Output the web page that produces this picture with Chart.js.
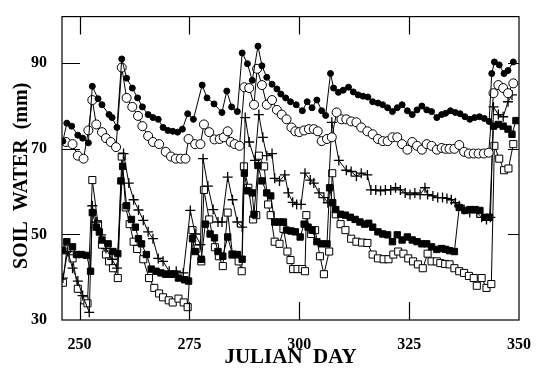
<!DOCTYPE html>
<html>
<head>
<meta charset="utf-8">
<script src="https://cdn.jsdelivr.net/npm/chart.js@4/dist/chart.umd.min.js"></script>
<style>
  html, body { margin: 0; padding: 0; background: #fff; }
  #wrap { width: 538px; height: 368px; }
</style>
</head>
<body>
<div id="wrap"><canvas id="soil" width="538" height="368"></canvas></div>
<script>
// tick labels
const xTicks = [250, 275, 300, 325, 350];
const yTicks = [30, 50, 70, 90];

// filled circles
const dotDays = [246.2, 247.1, 248.2, 249.6, 250.7, 252.0, 252.9, 254.2, 255.1, 256.7, 257.4, 258.5, 259.6, 260.7, 262.0, 263.2,
  264.3, 265.6, 266.7, 267.9, 269.0, 270.1, 271.2, 272.3, 273.4, 274.6, 275.9, 277.9, 279.0, 280.6, 282.4, 283.5, 284.6, 285.9,
  287.0, 288.2, 289.3, 290.6, 291.5, 292.6, 293.8, 294.9, 295.8, 296.9, 298.0, 299.3, 300.7, 301.8, 302.9, 304.0, 305.1, 306.0,
  307.1, 307.8, 308.9, 310.0, 311.2, 312.3, 313.4, 314.5, 315.6, 316.7, 317.9, 319.0, 320.1, 321.2, 322.3, 323.4, 324.6, 325.7,
  326.8, 327.9, 329.0, 330.1, 331.3, 332.4, 333.3, 334.4, 335.5, 336.6, 337.7, 338.8, 339.9, 341.0, 342.1, 343.2,
  343.8, 344.4, 345.5, 346.6, 347.5, 348.7];
const dotVals = [71.8, 76, 75.3, 73.2, 72.5, 71.4, 84.6, 81.7, 80.3, 78, 77.3, 75, 91, 86.5, 84.2, 81.9,
  79.8, 78, 77.3, 76.9, 75, 74.3, 74.1, 73.9, 74.6, 78.2, 76.9, 84.9, 81.9, 80.5, 78.5, 83.5, 79.8, 78.7,
  92.4, 89.9, 86, 94, 89.4, 86.7, 85.1, 84, 82.8, 81.9, 81, 80.3, 78.9, 81, 79.6, 81.4, 78.9, 77.8,
  87.6, 84.2, 83.2, 83.7, 84.4, 83.3, 82.6, 82.3, 82.1, 81, 80.7, 80.3, 79.6, 78.7, 79.6, 80.3, 78.9, 78,
  79.1, 80, 79.1, 78.7, 77.3, 78, 78.3, 78.9, 78.5, 78.2, 77.5, 76.9, 77.3, 77.5, 77.1, 76.4,
  87.6, 90.3, 89.6, 87.6, 88.3, 90.3];

// open circles
const ringDays = [246.9, 248.4, 249.6, 250.9, 252.0, 252.9, 253.8, 255.1, 256.0, 257.1, 258.3, 259.6, 260.7, 262.0, 263.3,
  264.3, 265.6, 266.7, 268.1, 269.6, 270.8, 271.9, 273.0, 274.1, 274.8, 276.3, 277.5, 278.3, 279.5, 280.7, 281.9, 282.8,
  283.7, 284.4, 285.3, 286.4, 287.5, 288.6, 289.7, 290.4, 291.5, 292.6, 293.8, 294.9, 296.0, 297.1, 298.2, 299.1, 300.0,
  301.1, 302.2, 303.3, 304.2, 305.1, 306.3, 307.4, 308.5, 309.6, 310.7, 311.8, 313.0, 314.1, 315.5, 316.7, 317.9, 319.0,
  320.1, 321.2, 322.3, 323.4, 324.6, 325.7, 326.8, 327.9, 329.0, 330.1, 331.3, 332.4, 333.3, 334.2, 335.3, 336.4, 337.5,
  338.6, 339.7, 340.8, 342.0, 343.1, 344.2, 345.3, 346.4, 347.5, 348.7];
const ringVals = [71.6, 71.1, 68.4, 67.7, 74.3, 81.4, 75.7, 73.9, 72.5, 71.6, 70.4, 89, 81.9, 79.8, 77.7,
  75.3, 73, 71.6, 71.1, 69.3, 68.2, 67.7, 67.7, 67.7, 72.3, 71.1, 71.1, 75.7, 73.9, 72.2, 72.3, 72.7,
  74.1, 71.6, 71.1, 70.7, 84.4, 84.2, 80.3, 88.7, 84.9, 80.3, 81.4, 79.1, 78, 76.9, 75, 74.1, 73.9,
  74.3, 74.6, 74.6, 74.1, 71.8, 72.3, 72.7, 78.5, 76.9, 76.9, 76.4, 76.2, 75, 74.1, 73.4, 72.3, 71.8,
  71.8, 72.7, 72.7, 71.1, 69.8, 71.6, 70.7, 69.8, 71.1, 70.7, 69.8, 70.2, 70, 70, 70, 70.9, 69.3,
  68.9, 68.9, 68.9, 68.9, 69.1, 83, 84.9, 84.2, 83, 85.3];

// plus signs
const plusDays = [246.2, 247.3, 248.4, 249.6, 250.7, 252.2, 252.9, 253.8, 254.9, 256.0, 257.4, 258.5, 260.0, 261.2, 262.3,
  263.4, 264.5, 265.6, 266.7, 267.9, 269.0, 270.4, 272.0, 273.6, 275.2, 276.3, 277.5, 278.1, 279.2, 280.4, 281.5, 282.4,
  283.7, 284.8, 285.9, 287.0, 287.7, 288.6, 289.9, 290.8, 291.7, 292.6, 293.8, 294.4, 295.5, 296.7, 297.5, 298.5, 299.4,
  300.4, 301.3, 302.5, 303.3, 304.5, 305.6, 306.5, 307.4, 309.0, 310.7, 311.8, 313.0, 314.1, 315.5, 316.3, 317.4, 318.5,
  319.6, 320.8, 321.9, 323.0, 324.1, 325.2, 326.3, 327.5, 328.6, 329.2, 330.4, 331.5, 332.6, 333.6, 334.6, 335.5, 336.4,
  337.5, 338.8, 340.4, 341.5, 342.6, 343.5, 344.2, 345.3, 346.4, 347.5, 348.4];
const plusVals = [39.8, 46, 42.1, 39.1, 35.7, 31.8, 56.7, 52.9, 49.9, 46.7, 44.2, 42.1, 68.9, 62, 58.1,
  55.7, 53.3, 50.6, 49, 44.4, 43.7, 41.4, 41.4, 41, 55.6, 50.1, 47.6, 67.7, 61.3, 55.8, 52.9, 52.9,
  63.4, 58.1, 52.9, 51.7, 77.3, 71.6, 67.3, 78, 72.7, 68.4, 68.9, 63.1, 62.5, 63.9, 59.7, 57.5, 57,
  57, 64.3, 62.7, 62, 59.7, 58.6, 57.4, 76.2, 67.3, 65, 64.7, 63.6, 64.3, 63.9, 60.4, 60.4, 60.2,
  60.4, 60.4, 60.9, 60.4, 59.7, 59.3, 59.7, 59.3, 60.9, 59.3, 59, 58.6, 58.6, 58.4, 58.1, 57.4, 56.7,
  55.8, 55.1, 55.1, 54, 53.5, 54, 79.8, 78, 77.5, 81, 82.6];

// filled squares
const boxDays = [246.2, 247.1, 248.4, 249.3, 250.4, 251.6, 252.5, 252.9, 253.8, 254.5, 255.1, 256.5, 257.6, 258.7, 259.4,
  259.8, 260.7, 261.8, 262.7, 263.4, 264.1, 265.2, 266.3, 267.4, 268.5, 269.6, 270.8, 271.7, 272.5, 273.9, 274.8, 275.7,
  276.3, 277.7, 278.6, 279.7, 280.7, 281.5, 282.6, 283.7, 284.8, 285.9, 287.0, 287.5, 288.2, 289.3, 289.7, 290.6, 291.5,
  292.6, 293.5, 294.4, 295.3, 296.4, 297.1, 298.1, 299.1, 300.2, 301.1, 302.0, 302.9, 304.0, 305.1, 306.3, 306.9, 307.6,
  308.3, 309.4, 310.5, 311.6, 312.7, 313.8, 314.9, 315.8, 316.7, 317.9, 319.0, 320.1, 321.2, 322.3, 323.4, 324.6, 325.7,
  326.8, 327.9, 329.0, 330.1, 331.3, 332.4, 333.3, 334.2, 335.3, 336.4, 337.7, 338.8, 340.0, 341.1, 342.2, 343.3,
  344.2, 345.3, 346.4, 347.5, 348.4, 349.3];
const boxVals = [46.2, 48.3, 47.1, 45.3, 45.3, 45.1, 41.4, 55.1, 51.7, 50.6, 48.7, 47.8, 46, 45.5, 62.5,
  65.9, 56.7, 53.5, 51.7, 49, 47.8, 45.3, 41.9, 41.4, 41, 40.7, 40.7, 40.7, 39.8, 39.4, 39.1, 49,
  46, 44.2, 52.4, 50.1, 49.2, 46, 44.9, 49.4, 45.3, 45.3, 44.2, 64.3, 60.2, 59.7, 54.7, 66.1, 62.5,
  59.7, 59, 52.9, 52.9, 52.9, 51, 50.8, 50.6, 49.4, 52.4, 51.7, 51, 48.3, 47.8, 47.8, 60.9, 57.4,
  55.8, 54.7, 54.5, 54, 53.5, 52.9, 52.4, 52.6, 51.7, 50.6, 50.1, 49.9, 48.3, 49.9, 48.7, 49.4, 48.7,
  48.3, 47.8, 47.8, 47.1, 46.5, 46.7, 46.5, 46.2, 46, 56.3, 55.6, 55.8, 55.8, 55.6, 54, 54,
  75.3, 75.7, 75.3, 74.6, 73.4, 76.6];

// open squares
const openBoxDays = [246.2, 247.1, 248.4, 249.6, 251.1, 251.8, 252.9, 254.2, 255.1, 256.0, 256.7, 257.6, 258.7, 259.6,
  260.5, 261.4, 262.3, 263.1, 264.5, 265.8, 267.0, 268.1, 269.0, 270.3, 271.2, 272.5, 273.7, 274.6, 275.7, 276.6, 277.7,
  278.3, 279.5, 280.8, 281.7, 282.6, 283.7, 284.8, 286.2, 286.9, 287.4, 288.4, 289.5, 290.2, 290.8, 292.0, 292.9, 293.5,
  294.4, 295.5, 296.4, 297.3, 298.0, 298.6, 299.6, 300.7, 301.3, 301.6, 302.7, 303.6, 304.7, 305.6, 306.8, 307.5, 308.3,
  309.4, 310.5, 311.8, 313.0, 314.3, 315.5, 316.7, 317.9, 319.2, 320.3, 321.4, 322.5, 323.7, 324.8, 325.9, 327.0, 328.1,
  329.2, 330.1, 331.3, 332.1, 333.2, 334.2, 335.3, 336.4, 337.5, 338.6, 339.7, 340.4, 341.5, 342.6, 343.7,
  344.4, 345.5, 346.6, 347.6, 348.7];
const openBoxVals = [38.7, 46.5, 44.4, 37.3, 34.6, 33.9, 62.7, 52.4, 47.6, 45.3, 43.7, 42.1, 39.8, 68.2,
  56.3, 52.4, 48.3, 46.6, 44.2, 39.8, 37.5, 36.2, 35.3, 34.6, 34.1, 35, 34.1, 33, 51, 46.7, 43.7,
  60.4, 53.5, 47, 44.9, 42.6, 55.1, 45.3, 43.7, 41.4, 65.9, 60.9, 53.5, 54.5, 68.4, 65.9, 57, 54.5,
  48.3, 47.8, 51.3, 46, 44, 41.9, 41.9, 41.9, 41.4, 54.5, 50.1, 51, 44.9, 40.7, 46, 64.3, 54.7,
  52.4, 51, 49, 48.3, 48.1, 48, 45.3, 44.4, 44.2, 44.2, 45.3, 46, 45.5, 44.4, 43.7, 43, 42.1,
  45.5, 43.7, 43.7, 43.3, 43.1, 43, 42.1, 41.4, 41, 40.3, 39.8, 38, 39.8, 37.5, 38.4,
  70.7, 67.7, 65, 65.4, 71.1];

const serif = "'Liberation Serif', 'Times New Roman', serif";

const pairUp = (days, vals) => days.map((d, i) => ({ x: d, y: vals[i] }));

const makeSet = (label, days, vals, style, radius, fill) => ({
  label,
  data: pairUp(days, vals),
  borderColor: '#000',
  borderWidth: 1,
  pointStyle: style,
  pointRadius: radius,
  pointBackgroundColor: fill,
  pointBorderColor: '#000',
  pointBorderWidth: style === 'cross' ? 1.3 : 1,
  tension: 0,
  fill: false
});

// inward ticks and the closed frame
const frameTicks = {
  id: 'frameTicks',
  afterDraw(chart) {
    const { ctx, chartArea: a, scales: { x, y } } = chart;
    ctx.save();
    ctx.strokeStyle = '#000';
    ctx.lineWidth = 1.2;
    ctx.strokeRect(a.left, a.top, a.right - a.left, a.bottom - a.top);
    ctx.beginPath();
    xTicks.forEach(v => {
      if (v >= x.max) return;
      const px = Math.round(x.getPixelForValue(v)) + 0.5;
      ctx.moveTo(px, a.bottom); ctx.lineTo(px, a.bottom - 18);
      ctx.moveTo(px, a.top); ctx.lineTo(px, a.top + 18);
    });
    yTicks.forEach(v => {
      if (v <= y.min) return;
      const py = Math.round(y.getPixelForValue(v)) + 0.5;
      ctx.moveTo(a.left, py); ctx.lineTo(a.left + 18, py);
      ctx.moveTo(a.right, py); ctx.lineTo(a.right - 11, py);
    });
    ctx.stroke();
    ctx.restore();
  }
};

new Chart(document.getElementById('soil'), {
  type: 'line',
  data: {
    datasets: [
      makeSet('filled circles', dotDays, dotVals, 'circle', 3, '#000'),
      makeSet('open circles', ringDays, ringVals, 'circle', 4.5, '#fff'),
      makeSet('plus', plusDays, plusVals, 'cross', 5, '#000'),
      makeSet('filled squares', boxDays, boxVals, 'rect', 4.5, '#000'),
      makeSet('open squares', openBoxDays, openBoxVals, 'rect', 5, '#fff')
    ]
  },
  options: {
    responsive: false,
    devicePixelRatio: 1,
    animation: false,
    layout: { padding: { top: 10, right: 10, left: 0, bottom: 0 } },
    plugins: { legend: { display: false }, tooltip: { enabled: false } },
    scales: {
      x: {
        type: 'linear',
        min: 246,
        max: 350,
        afterFit: s => { s.height = 48; },
        afterBuildTicks: s => { s.ticks = xTicks.map(v => ({ value: v })); },
        grid: { display: false },
        border: { display: false },
        ticks: { color: '#000', padding: 7, font: { family: serif, size: 16, weight: 'bold' } },
        title: {
          display: true,
          text: 'JULIAN  DAY',
          color: '#000',
          padding: 0,
          font: { family: serif, size: 21, weight: 'bold', lineHeight: 1 }
        }
      },
      y: {
        type: 'linear',
        min: 30,
        max: 100.9,
        afterFit: s => { s.width = 62; },
        afterBuildTicks: s => { s.ticks = yTicks.map(v => ({ value: v })); },
        grid: { display: false },
        border: { display: false },
        ticks: { color: '#000', padding: 7, font: { family: serif, size: 16, weight: 'bold' } },
        title: {
          display: true,
          // trailing spaces nudge the rotated text a little lower, as in the original
          text: 'SOIL  WATER  (mm)   ',
          color: '#000',
          padding: { top: 12, bottom: 0 },
          font: { family: serif, size: 20, weight: 'bold', lineHeight: 1 }
        }
      }
    }
  },
  plugins: [frameTicks]
});
</script>
</body>
</html>
